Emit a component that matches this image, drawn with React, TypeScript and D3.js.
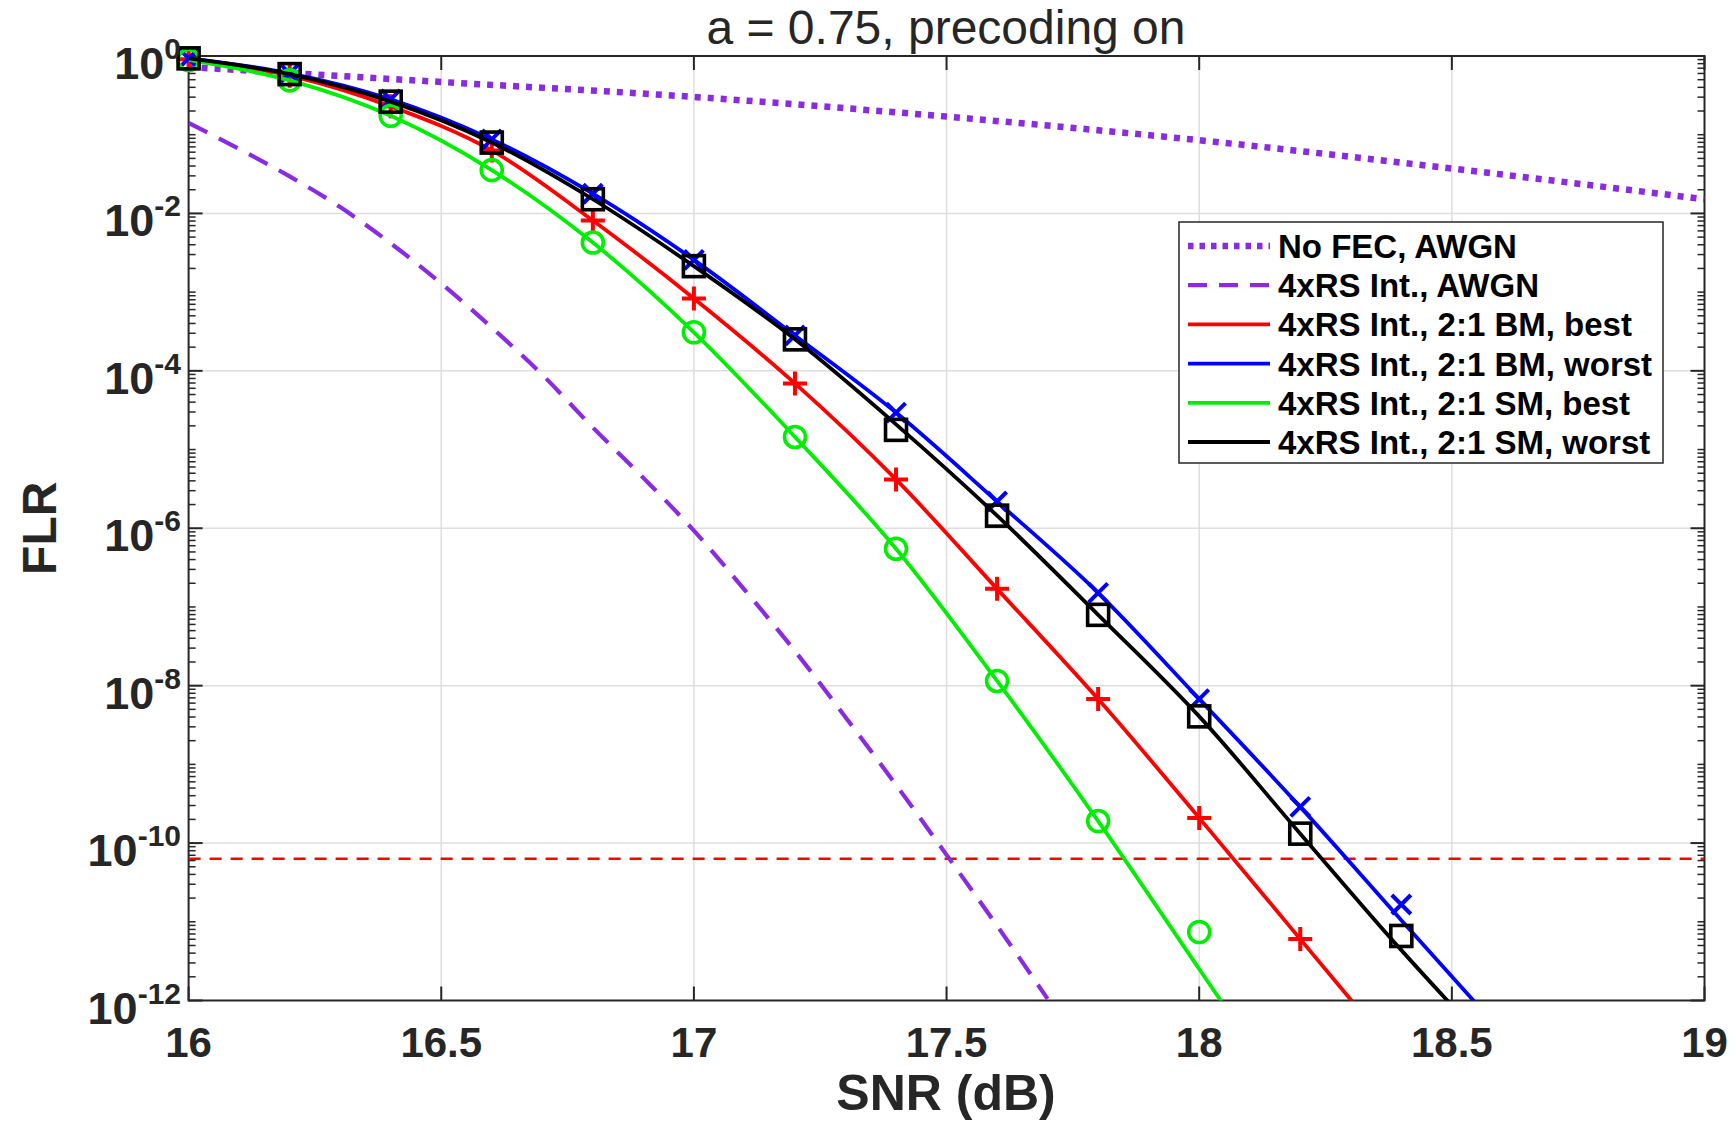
import React from "react";
import * as d3 from "d3";

// figure size and plot box (pixels)
const W = 1736;
const H = 1124;
const box = { left: 188.6, right: 1704.5, top: 56, bottom: 1000.5 };

const xTicks = [16, 16.5, 17, 17.5, 18, 18.5, 19];
const yTickExps = [0, -2, -4, -6, -8, -10, -12];

// SNR (dB) of the simulated points
const snr = [16, 16.2, 16.4, 16.6, 16.8, 17, 17.2, 17.4, 17.6, 17.8, 18, 18.2, 18.4];

// all FLR values below are log10(FLR)
const noFecSnr = [16, 16.5, 17, 17.5, 18, 18.5, 19];
const noFecLog = [-0.14, -0.33, -0.52, -0.77, -1.07, -1.43, -1.82];

const awgnSnr = [16, 16.1, 16.2, 16.3, 16.4, 16.5, 16.6, 16.7, 16.8, 16.9, 17, 17.1, 17.2, 17.3, 17.4, 17.5, 17.6, 17.7];
const awgnLog = [-0.85, -1.18, -1.53, -1.92, -2.38, -2.89, -3.45, -4.05, -4.72, -5.36, -6.03, -6.78, -7.56, -8.4, -9.26, -10.15, -11.05, -11.98];

// 2:1 BM, best (red +)
const bmBestMarks = [-0.04, -0.25, -0.64, -1.2, -2.09, -3.08, -4.16, -5.38, -6.77, -8.17, -9.68, -11.22];
const bmBestLineSnr = [16, 16.2, 16.4, 16.6, 16.8, 17, 17.2, 17.4, 17.6, 17.8, 18, 18.2, 18.4];
const bmBestLineLog = [-0.04, -0.25, -0.64, -1.2, -2.09, -3.08, -4.16, -5.38, -6.77, -8.17, -9.68, -11.22, -12.76];

// 2:1 BM, worst (blue x)
const bmWorstMarks = [-0.03, -0.22, -0.55, -1.06, -1.75, -2.59, -3.55, -4.53, -5.66, -6.82, -8.17, -9.54, -10.78];
const bmWorstLineSnr = [16, 16.2, 16.4, 16.6, 16.8, 17, 17.2, 17.4, 17.6, 17.8, 18, 18.2, 18.4, 18.6];
const bmWorstLineLog = [-0.03, -0.22, -0.55, -1.06, -1.75, -2.59, -3.55, -4.53, -5.66, -6.82, -8.17, -9.54, -10.98, -12.41];

// 2:1 SM, best (green o)
const smBestMarks = [-0.05, -0.31, -0.76, -1.45, -2.37, -3.51, -4.84, -6.26, -7.94, -9.72, -11.13];
const smBestLineSnr = [16, 16.2, 16.4, 16.6, 16.8, 17, 17.2, 17.4, 17.6, 17.8, 18, 18.2];
const smBestLineLog = [-0.05, -0.31, -0.76, -1.45, -2.37, -3.51, -4.84, -6.26, -7.94, -9.72, -11.6, -13.48];

// 2:1 SM, worst (black square)
const smWorstMarks = [-0.03, -0.23, -0.58, -1.1, -1.82, -2.67, -3.6, -4.75, -5.84, -7.1, -8.39, -9.88, -11.18];
const smWorstLineSnr = [16, 16.2, 16.4, 16.6, 16.8, 17, 17.2, 17.4, 17.6, 17.8, 18, 18.2, 18.4, 18.6];
const smWorstLineLog = [-0.03, -0.23, -0.58, -1.1, -1.82, -2.67, -3.6, -4.68, -5.84, -7.1, -8.39, -9.88, -11.36, -12.75];

// target FLR (red dashed)
const targetLog = -10.2;

const legendLabels = [
  "No FEC, AWGN",
  "4xRS Int., AWGN",
  "4xRS Int., 2:1 BM, best",
  "4xRS Int., 2:1 BM, worst",
  "4xRS Int., 2:1 SM, best",
  "4xRS Int., 2:1 SM, worst",
];

const PURPLE = "#8a2be2";
const AXIS = "#262626";
const FONT = "'Liberation Sans', Arial, Helvetica, sans-serif";

const x = d3.scaleLinear().domain([16, 19]).range([box.left, box.right]);
const y = d3.scaleLog().domain([1e-12, 1]).range([box.bottom, box.top]);

const line = d3
  .line<[number, number]>()
  .x((d) => x(d[0]))
  .y((d) => y(Math.pow(10, d[1])))
  .curve(d3.curveMonotoneX);

const zip = (a: number[], b: number[]) => a.map((v, i) => [v, b[i]] as [number, number]);
// markers: one per measured value, paired with the SNR grid
const marksOf = (vals: number[]) => vals.map((v, i) => [snr[i], v] as [number, number]);

const series = [
  { label: legendLabels[0], color: PURPLE, width: 6.5, dash: "6 7", pts: zip(noFecSnr, noFecLog), marks: [] as [number, number][], marker: "" },
  { label: legendLabels[1], color: PURPLE, width: 4.2, dash: "21 13", pts: zip(awgnSnr, awgnLog), marks: [] as [number, number][], marker: "" },
  { label: legendLabels[2], color: "#ff0000", width: 3.8, dash: "", pts: zip(bmBestLineSnr, bmBestLineLog), marks: marksOf(bmBestMarks), marker: "+" },
  { label: legendLabels[3], color: "#0000ff", width: 3.8, dash: "", pts: zip(bmWorstLineSnr, bmWorstLineLog), marks: marksOf(bmWorstMarks), marker: "x" },
  { label: legendLabels[4], color: "#00ee00", width: 3.8, dash: "", pts: zip(smBestLineSnr, smBestLineLog), marks: marksOf(smBestMarks), marker: "o" },
  { label: legendLabels[5], color: "#000000", width: 3.8, dash: "", pts: zip(smWorstLineSnr, smWorstLineLog), marks: marksOf(smWorstMarks), marker: "s" },
];

function Marker({ type, cx, cy, color }: { type: string; cx: number; cy: number; color: string }) {
  const sw = 3.6;
  if (type === "o") return <circle cx={cx} cy={cy} r={10.5} fill="none" stroke={color} strokeWidth={sw} />;
  if (type === "s") return <rect x={cx - 10.5} y={cy - 10.5} width={21} height={21} fill="none" stroke={color} strokeWidth={sw} />;
  if (type === "+")
    return <path d={`M${cx - 12},${cy}H${cx + 12}M${cx},${cy - 12}V${cy + 12}`} stroke={color} strokeWidth={4} fill="none" />;
  if (type === "x")
    return (
      <path
        d={`M${cx - 9.5},${cy - 9.5}L${cx + 9.5},${cy + 9.5}M${cx - 9.5},${cy + 9.5}L${cx + 9.5},${cy - 9.5}`}
        stroke={color}
        strokeWidth={4}
        fill="none"
      />
    );
  return null;
}

export default function App() {
  // minor ticks on the log axis
  const minorTicks: number[] = [];
  for (let k = -12; k < 0; k++) {
    for (let j = 2; j <= 9; j++) minorTicks.push(j * Math.pow(10, k));
    if (k % 2 !== 0) minorTicks.push(Math.pow(10, k));
  }

  const legend = { left: 1179, top: 222, width: 484, height: 241, row0: 246, rowH: 39.2 };

  return (
    <svg width={W} height={H} style={{ position: "absolute", left: 0, top: 0, background: "#fff" }} fontFamily={FONT}>
      <defs>
        <clipPath id="plotClip">
          <rect x={box.left} y={box.top} width={box.right - box.left} height={box.bottom - box.top} />
        </clipPath>
      </defs>
      <rect x={0} y={0} width={W} height={H} fill="#fff" />

      {/* grid */}
      <g stroke="#dedede" strokeWidth={1.5}>
        {xTicks.slice(1, -1).map((t) => (
          <line key={"gx" + t} x1={x(t)} x2={x(t)} y1={box.top} y2={box.bottom} />
        ))}
        {yTickExps.slice(1, -1).map((e) => (
          <line key={"gy" + e} x1={box.left} x2={box.right} y1={y(Math.pow(10, e))} y2={y(Math.pow(10, e))} />
        ))}
      </g>

      {/* axes box and ticks */}
      <g stroke={AXIS} strokeWidth={2} fill="none">
        <rect x={box.left} y={box.top} width={box.right - box.left} height={box.bottom - box.top} />
        {xTicks.map((t) => (
          <g key={"tx" + t}>
            <line x1={x(t)} x2={x(t)} y1={box.bottom} y2={box.bottom - 14} />
            <line x1={x(t)} x2={x(t)} y1={box.top} y2={box.top + 14} />
          </g>
        ))}
        {yTickExps.map((e) => (
          <g key={"ty" + e}>
            <line x1={box.left} x2={box.left + 14} y1={y(Math.pow(10, e))} y2={y(Math.pow(10, e))} />
            <line x1={box.right} x2={box.right - 14} y1={y(Math.pow(10, e))} y2={y(Math.pow(10, e))} />
          </g>
        ))}
        {minorTicks.map((v, i) => (
          <g key={"mt" + i} strokeWidth={1.5}>
            <line x1={box.left} x2={box.left + 7} y1={y(v)} y2={y(v)} />
            <line x1={box.right} x2={box.right - 7} y1={y(v)} y2={y(v)} />
          </g>
        ))}
      </g>

      {/* curves */}
      <line
        clipPath="url(#plotClip)"
        x1={box.left}
        x2={box.right}
        y1={y(Math.pow(10, targetLog))}
        y2={y(Math.pow(10, targetLog))}
        stroke="#ff0000"
        strokeWidth={2.5}
        strokeDasharray="12 9"
      />
      {series.map((s, i) => (
        <g key={"s" + i}>
          <path
            clipPath="url(#plotClip)"
            d={line(s.pts) || ""}
            fill="none"
            stroke={s.color}
            strokeWidth={s.width}
            strokeDasharray={s.dash || undefined}
          />
          {s.marks.map((m, j) => (
            <Marker key={j} type={s.marker} cx={x(m[0])} cy={y(Math.pow(10, m[1]))} color={s.color} />
          ))}
        </g>
      ))}

      {/* tick labels */}
      <g fill={AXIS} fontWeight="bold">
        {xTicks.map((t) => (
          <text key={"lx" + t} x={x(t)} y={1057} fontSize={42} textAnchor="middle">
            {String(t)}
          </text>
        ))}
        {yTickExps.map((e) => (
          <text key={"ly" + e} x={181} y={y(Math.pow(10, e)) + 23} fontSize={45} textAnchor="end">
            10
            <tspan fontSize={30} dy={-20}>
              {String(e)}
            </tspan>
          </text>
        ))}
      </g>

      {/* labels */}
      <text x={946} y={44} fontSize={48} textAnchor="middle" fill={AXIS}>
        a = 0.75, precoding on
      </text>
      <text x={946} y={1110} fontSize={50} fontWeight="bold" textAnchor="middle" fill={AXIS}>
        SNR (dB)
      </text>
      <text
        transform={`translate(56, ${(box.top + box.bottom) / 2}) rotate(-90)`}
        fontSize={48}
        fontWeight="bold"
        textAnchor="middle"
        fill={AXIS}
      >
        FLR
      </text>

      {/* legend */}
      <g>
        <rect
          x={legend.left}
          y={legend.top}
          width={legend.width}
          height={legend.height}
          fill="#fff"
          stroke={AXIS}
          strokeWidth={1.5}
        />
        {series.map((s, i) => {
          const ry = legend.row0 + i * legend.rowH;
          return (
            <g key={"lg" + i}>
              <line
                x1={1188}
                x2={1270}
                y1={ry}
                y2={ry}
                stroke={s.color}
                strokeWidth={s.width}
                strokeDasharray={i === 0 ? "5.5 6" : i === 1 ? "19 12" : undefined}
              />
              <text x={1278} y={ry + 12} fontSize={33} fontWeight="bold" fill="#000">
                {s.label}
              </text>
            </g>
          );
        })}
      </g>
    </svg>
  );
}
